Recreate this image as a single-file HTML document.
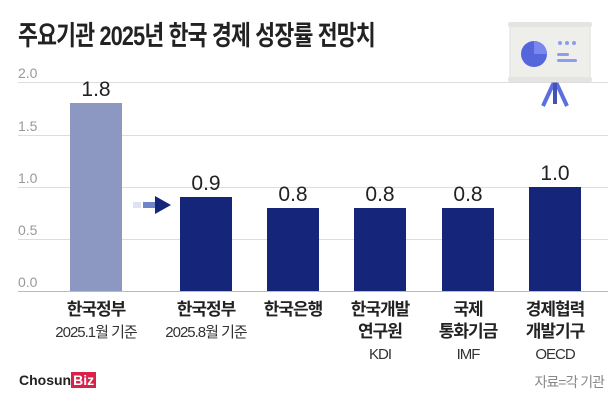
<!DOCTYPE html><html><head><meta charset="utf-8"><style>
body{margin:0;width:616px;height:405px;background:#fff;overflow:hidden;font-family:"Liberation Sans","Noto Sans CJK KR",sans-serif;position:relative}
.a{position:absolute;white-space:nowrap}
.t{left:18px;top:14px;font-size:27px;font-weight:bold;color:#222;letter-spacing:-1px;transform:scaleX(0.8);transform-origin:0 0}
.g{left:18px;width:590px;height:1px;background:#ddd}
.y{left:18px;font-size:14px;color:#999}
.b{position:absolute;width:52px;background:#15267a}
.v{position:absolute;width:80px;text-align:center;font-size:21px;color:#222}
.l{position:absolute;width:110px;text-align:center;font-size:17px;font-weight:bold;color:#222;line-height:22px;top:299px;letter-spacing:-1px}
.l span{font-weight:normal;font-size:15px;color:#333}
</style></head><body>
<div class="a t">주요기관 2025년 한국 경제 성장률 전망치</div>
<div class="a g" style="top:82px"></div><div class="a g" style="top:135px"></div><div class="a g" style="top:187px"></div><div class="a g" style="top:239px"></div><div class="a g" style="top:291px;background:#bbb"></div>
<div class="a y" style="top:65px">2.0</div><div class="a y" style="top:118px">1.5</div><div class="a y" style="top:170px">1.0</div><div class="a y" style="top:222px">0.5</div><div class="a y" style="top:274px">0.0</div>
<div class="b" style="left:70px;top:103px;height:188px;background:#8c97c2"></div>
<div class="b" style="left:180px;top:197px;height:94px"></div>
<div class="b" style="left:267px;top:208px;height:83px"></div>
<div class="b" style="left:354px;top:208px;height:83px"></div>
<div class="b" style="left:442px;top:208px;height:83px"></div>
<div class="b" style="left:529px;top:187px;height:104px"></div>
<div class="v" style="left:56px;top:78px">1.8</div>
<div class="v" style="left:166px;top:172px">0.9</div>
<div class="v" style="left:253px;top:183px">0.8</div>
<div class="v" style="left:340px;top:183px">0.8</div>
<div class="v" style="left:428px;top:183px">0.8</div>
<div class="v" style="left:515px;top:162px">1.0</div>
<svg class="a" style="left:133px;top:194px" width="42" height="22"><rect x="0" y="8" width="8" height="6" fill="#dde3f2"/><rect x="10" y="8" width="14" height="6" fill="#6e86c9"/><polygon points="22,2 38,11 22,20" fill="#15267a"/></svg>
<div class="l" style="left:41px">한국정부<br><span>2025.1월 기준</span></div>
<div class="l" style="left:151px">한국정부<br><span>2025.8월 기준</span></div>
<div class="l" style="left:238px">한국은행</div>
<div class="l" style="left:325px">한국개발<br>연구원<br><span>KDI</span></div>
<div class="l" style="left:413px">국제<br>통화기금<br><span>IMF</span></div>
<div class="l" style="left:500px">경제협력<br>개발기구<br><span>OECD</span></div>
<div class="a" style="left:19px;top:372px;font-size:14px;font-weight:bold;color:#222">Chosun<span style="background:#d9224a;color:#fff;padding:0 2px">Biz</span></div>
<div class="a" style="right:12px;top:372px;font-size:14px;color:#888;letter-spacing:-1px">자료=각 기관</div>
<svg class="a" style="left:500px;top:18px" width="100" height="95" viewBox="-5 0 100 95">
<line x1="50" y1="62" x2="38" y2="88" stroke="#5c6fe0" stroke-width="4"/><line x1="50" y1="62" x2="62" y2="88" stroke="#5c6fe0" stroke-width="4"/><line x1="50" y1="62" x2="50" y2="86" stroke="#4452b8" stroke-width="4"/>
<rect x="5" y="6" width="80" height="58" rx="3" fill="#eeeeea" stroke="#ddd"/>
<rect x="3" y="4" width="84" height="5" rx="2" fill="#e4e4e0"/><rect x="3" y="59" width="84" height="5" rx="2" fill="#e4e4e0"/>
<circle cx="29" cy="36" r="13" fill="#5566dd"/><path d="M29 36 L29 23 A13 13 0 0 1 42 36Z" fill="#7a88ee"/>
<rect x="52" y="35" width="12" height="3" rx="1.5" fill="#8e9cf0"/><rect x="52" y="41" width="20" height="3" rx="1.5" fill="#8e9cf0"/>
<circle cx="55" cy="25" r="2" fill="#8e9cf0"/><circle cx="62" cy="25" r="2" fill="#8e9cf0"/><circle cx="69" cy="25" r="2" fill="#8e9cf0"/>
</svg>
</body></html>
